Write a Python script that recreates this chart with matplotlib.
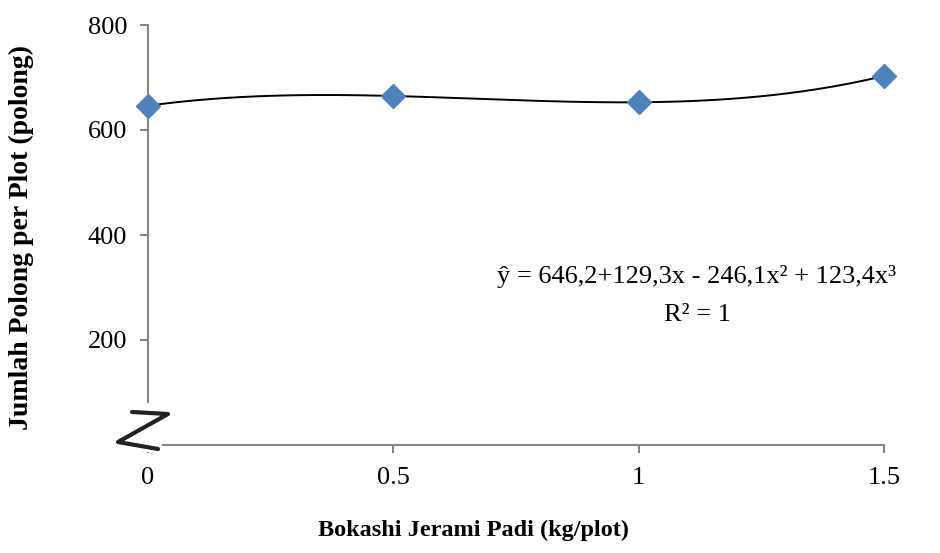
import numpy as np
import matplotlib
matplotlib.use('Agg')
import matplotlib.pyplot as plt
from matplotlib.lines import Line2D
from matplotlib.patches import Rectangle

plt.rcParams['font.family'] = ['Liberation Serif', 'DejaVu Serif']

# data
dosis = [0, 0.5, 1, 1.5]
polong = [646.2, 664.8, 652.8, 702.9]
xticks = [0, 0.5, 1, 1.5]
xtick_labels = ['0', '0.5', '1', '1.5']
yticks = [200, 400, 600, 800]

W, H = 940, 553
fig = plt.figure(figsize=(W / 100, H / 100), dpi=100)
ax = fig.add_axes([148 / W, 1 - 445 / H, (884 - 148) / W, (445 - 25) / H])

# cubic trendline through the points
coef = np.polyfit(dosis, polong, 3)
xs = np.linspace(0, 1.5, 200)
ax.plot(xs, np.polyval(coef, xs), color='black', lw=1.4, zorder=2)
ax.plot(dosis, polong, ls='none', marker='D', ms=12, color='#4F81BD',
        markeredgecolor='#4F81BD', zorder=3, clip_on=False)

ax.set_xlim(0, 1.5)
ax.set_ylim(0, 800)
ax.set_xticks(xticks)
ax.set_xticklabels(xtick_labels)
ax.set_yticks(yticks)
for s in ['top', 'right']:
    ax.spines[s].set_visible(False)
for s in ['left', 'bottom']:
    ax.spines[s].set_color('#868686')
    ax.spines[s].set_linewidth(1.5)
ax.tick_params(colors='#868686', width=1.5, length=6, labelsize=19, labelcolor='black')
ax.tick_params(axis='x', pad=10)
ax.tick_params(axis='y', pad=9)

ax.text(0.746, 0.40, u'\u0177 = 646,2+129,3x - 246,1x\u00b2 + 123,4x\u00b3',
        transform=ax.transAxes, ha='center', va='center', fontsize=19)
ax.text(0.746, 0.31, u'R\u00b2 = 1', transform=ax.transAxes,
        ha='center', va='center', fontsize=19)

fig.text(474 / W, 1 - 530 / H, 'Bokashi Jerami Padi (kg/plot)', ha='center',
         va='center', fontsize=17.5, fontweight='bold')
fig.text(21 / W, 1 - 237 / H, 'Jumlah Polong per Plot (polong)', ha='center',
         va='center', fontsize=20, fontweight='bold', rotation=90)

# axis break "Z"
def fp(x, y):
    return x / W, 1 - y / H

fig.patches.append(Rectangle(fp(105, 452), 57 / W, 49 / H, transform=fig.transFigure,
                             facecolor='white', edgecolor='none', zorder=5))
zx = [132, 168, 118, 158]
zy = [412, 414, 442, 449]
pts = [fp(a, b) for a, b in zip(zx, zy)]
fig.lines.append(Line2D([p[0] for p in pts], [p[1] for p in pts], transform=fig.transFigure,
                        color='#222222', lw=3.0, solid_capstyle='round',
                        solid_joinstyle='round', zorder=6))

fig.savefig('out.png', dpi=100)
